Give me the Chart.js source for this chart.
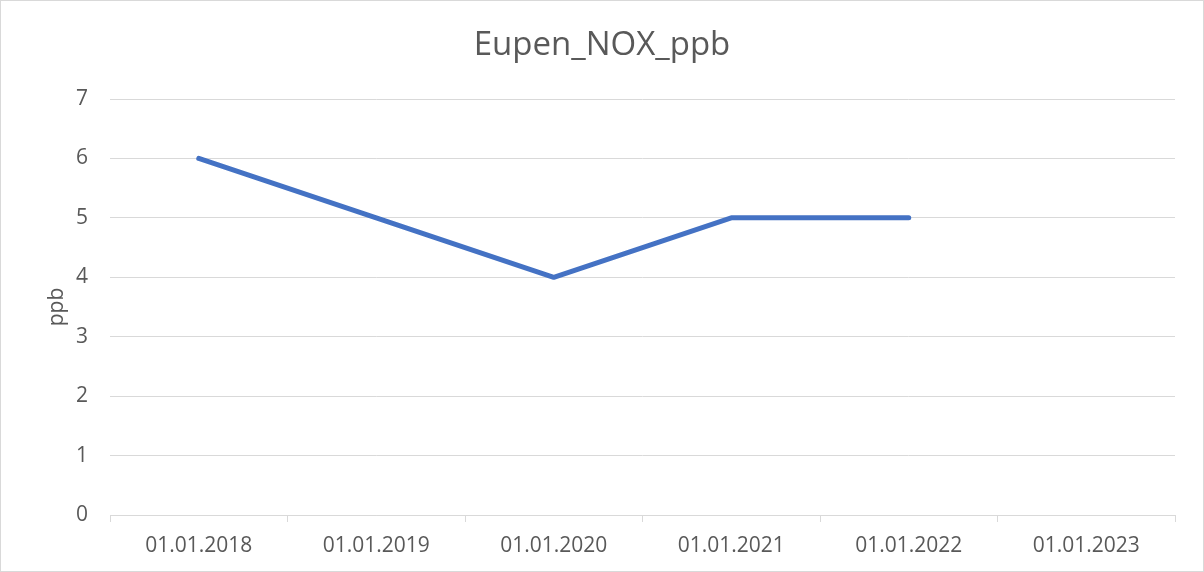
<!DOCTYPE html>
<html>
<head>
<meta charset="utf-8">
<script src="https://cdn.jsdelivr.net/npm/chart.js@4"></script>
<style>
  body { margin: 0; background: #fff; }
  #wrap { width: 1204px; height: 572px; box-sizing: border-box; border: 1px solid #d9d9d9; }
  canvas { display: block; }
</style>
</head>
<body>
<div id="wrap"><canvas id="myChart" width="1202" height="570"></canvas></div>
<script>
const dates = ['01.01.2018', '01.01.2019', '01.01.2020', '01.01.2021', '01.01.2022', '01.01.2023'];
const noxValues = [6, 5, 4, 5, 5, null];
const yTicks = [0, 1, 2, 3, 4, 5, 6, 7];

const font = "'Open Sans', 'Liberation Sans', sans-serif";
const grey = '#d9d9d9';
const textGrey = '#595959';

const data = {
    labels: dates,
    datasets: [{
        label: 'Eupen_NOX_ppb',
        data: noxValues,
        borderColor: '#4472c4',
        backgroundColor: '#4472c4',
        borderWidth: 5,
        borderCapStyle: 'round',
        borderJoinStyle: 'round',
        pointRadius: 0,
        tension: 0,
        spanGaps: false
    }]
};

const config = {
    type: 'line',
    data: data,
    options: {
        responsive: false,
        animation: false,
        layout: { padding: 0 },
        plugins: {
            legend: { display: false },
            tooltip: { enabled: false },
            title: {
                display: true,
                text: 'Eupen_NOX_ppb',
                color: textGrey,
                font: { family: font, size: 33, weight: 'normal', lineHeight: 1.2 },
                padding: { top: 25.2, bottom: 33.2 }
            }
        },
        scales: {
            x: {
                offset: true,
                grid: { offset: true, drawOnChartArea: false, color: grey, tickLength: 7 },
                border: { color: grey },
                ticks: { color: textGrey, font: { family: font, size: 21 }, padding: 11, maxRotation: 0 },
                afterFit: (scale) => { scale.height = 56; }
            },
            y: {
                min: 0,
                max: 7,
                afterBuildTicks: (scale) => { scale.ticks = yTicks.map(v => ({ value: v })); },
                grid: { color: grey, drawTicks: false },
                border: { display: false },
                ticks: { color: textGrey, font: { family: font, size: 21 }, padding: 22 },
                title: {
                    display: true,
                    text: 'ppb',
                    color: textGrey,
                    font: { family: font, size: 21, weight: 'normal' },
                    padding: { top: 43, bottom: 0 }
                },
                afterFit: (scale) => { scale.width = 109; }
            },
            // empty right axis, only keeps the right margin so the title stays centred
            yRight: {
                position: 'right',
                min: 0,
                max: 7,
                grid: { drawOnChartArea: false, drawTicks: false },
                border: { display: false },
                ticks: { display: false },
                afterFit: (scale) => { scale.width = 28; }
            }
        }
    }
};

var myChart = new Chart(document.getElementById('myChart'), config);
</script>
</body>
</html>
